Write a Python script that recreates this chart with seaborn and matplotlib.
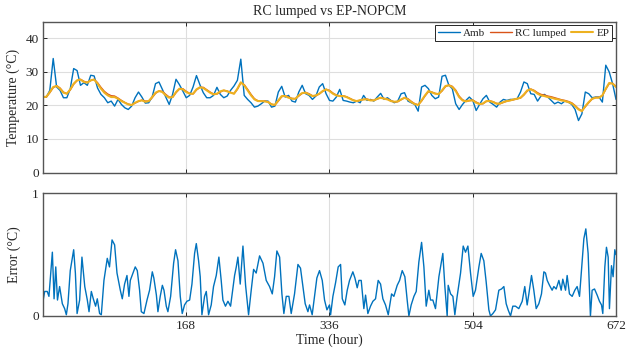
import numpy as np
import pandas as pd
import matplotlib
matplotlib.use("Agg")
import matplotlib.pyplot as plt
import seaborn as sns

# hourly axis, values read every 4 hours
hours = np.arange(0, 673, 4)

amb_temp = [
    22.5, 22.5, 24.5, 34.0, 25.5, 24.5, 22.3, 22.3, 25.0, 31.0, 30.4, 26.0, 26.8, 26.0, 29.0, 28.8,
    25.2, 23.3, 22.3, 20.8, 21.3, 19.8, 21.8, 20.3, 19.3, 18.8, 19.8, 22.3, 24.0, 22.5, 20.7, 20.8,
    22.5, 26.5, 27.0, 24.8, 22.5, 20.3, 23.3, 27.8, 26.2, 24.3, 22.3, 23.0, 25.5, 28.9, 26.2, 23.8,
    22.3, 22.3, 23.0, 25.4, 23.3, 22.3, 22.8, 24.5, 25.8, 27.5, 33.8, 23.0, 21.8, 20.8, 19.5, 19.8,
    20.5, 21.3, 21.3, 19.5, 19.8, 24.0, 25.7, 22.5, 23.0, 21.3, 21.0, 24.0, 26.0, 23.5, 23.0, 21.8,
    22.8, 25.5, 26.5, 23.5, 21.5, 21.3, 22.5, 24.8, 21.5, 21.3, 21.0, 20.8, 21.3, 20.8, 23.0, 21.5,
    21.8, 21.3, 22.5, 23.6, 21.8, 22.3, 21.5, 20.8, 21.3, 23.5, 23.8, 21.3, 20.8, 20.3, 18.3, 25.5,
    26.0, 25.0, 23.0, 22.0, 22.5, 28.7, 29.0, 26.0, 25.0, 20.5, 18.8, 20.3, 21.5, 22.5, 21.5, 18.5,
    20.3, 22.0, 23.0, 21.0, 20.3, 19.5, 21.0, 21.8, 21.5, 21.8, 21.8, 22.0, 24.0, 27.0, 26.5, 23.5,
    23.3, 21.3, 22.8, 23.3, 22.5, 21.5, 20.5, 21.0, 20.5, 21.3, 21.0, 20.3, 18.8, 15.5, 17.5, 24.0,
    23.5, 22.3, 22.5, 22.5, 21.0, 32.0, 30.0, 26.5, 21.8,
]

ep_temp = [
    22.5, 22.6, 24.0, 25.5, 25.8, 25.0, 23.8, 23.5, 24.8, 26.5, 27.5, 27.7, 27.0, 26.8, 27.5, 27.7,
    26.5, 25.0, 23.8, 23.0, 22.5, 22.5, 22.0, 21.3, 20.8, 20.3, 20.1, 20.8, 21.3, 21.5, 21.1, 21.3,
    22.5, 23.8, 24.3, 24.0, 23.0, 22.3, 22.5, 24.0, 25.0, 24.8, 24.0, 23.5, 23.5, 24.8, 25.4, 25.2,
    24.5, 23.8, 23.3, 23.5, 24.2, 24.5, 24.2, 23.8, 23.5, 25.0, 26.9, 26.0, 24.5, 23.0, 21.8, 21.3,
    21.3, 21.2, 21.0, 20.3, 20.2, 21.5, 22.8, 22.8, 22.3, 22.0, 22.0, 23.0, 23.7, 23.8, 23.3, 22.8,
    23.0, 23.5, 24.3, 24.8, 24.3, 23.5, 23.0, 22.8, 22.8, 22.5, 22.0, 21.5, 21.3, 21.6, 21.8, 21.8,
    21.5, 21.5, 22.0, 22.3, 22.0, 21.8, 21.3, 21.1, 21.2, 21.8, 22.3, 21.8, 21.0, 20.4, 20.1, 21.5,
    23.0, 24.3, 23.9, 23.5, 23.4, 24.5, 25.8, 26.0, 25.5, 24.3, 22.5, 21.5, 21.2, 21.5, 21.5, 20.8,
    20.4, 20.6, 21.3, 21.3, 21.0, 20.5, 20.6, 21.0, 21.3, 21.5, 21.8, 22.0, 22.3, 23.3, 24.5, 24.8,
    24.3, 23.5, 23.0, 22.8, 22.5, 22.3, 22.0, 21.8, 21.5, 21.3, 21.0, 20.6, 19.8, 18.8, 18.3, 19.8,
    21.0, 22.0, 22.3, 22.3, 23.0, 25.0, 26.7, 26.5, 25.5,
]

rc_temp = [
    22.4, 22.5, 23.8, 25.3, 25.9, 25.2, 24.0, 23.5, 24.6, 26.3, 27.4, 27.8, 27.2, 26.9, 27.4, 27.8,
    26.8, 25.4, 24.2, 23.4, 22.9, 22.8, 22.2, 21.5, 20.9, 20.4, 20.2, 20.7, 21.2, 21.6, 21.3, 21.3,
    22.3, 23.6, 24.3, 24.2, 23.3, 22.5, 22.4, 23.8, 24.9, 25.0, 24.2, 23.6, 23.4, 24.6, 25.4, 25.4,
    24.7, 24.0, 23.4, 23.4, 24.0, 24.5, 24.3, 23.9, 23.5, 24.8, 26.7, 26.2, 24.8, 23.3, 22.0, 21.4,
    21.3, 21.3, 21.1, 20.4, 20.1, 21.3, 22.6, 22.9, 22.5, 22.1, 22.0, 22.8, 23.6, 23.9, 23.5, 22.9,
    22.9, 23.4, 24.2, 24.8, 24.5, 23.7, 23.1, 22.8, 22.9, 22.6, 22.1, 21.6, 21.3, 21.5, 21.8, 21.9,
    21.6, 21.5, 21.9, 22.3, 22.1, 21.9, 21.4, 21.1, 21.1, 21.7, 22.3, 22.0, 21.2, 20.5, 20.2, 21.3,
    22.8, 24.1, 24.0, 23.6, 23.4, 24.3, 25.6, 26.1, 25.7, 24.6, 22.8, 21.7, 21.2, 21.4, 21.6, 21.0,
    20.5, 20.5, 21.2, 21.4, 21.1, 20.6, 20.5, 20.9, 21.3, 21.5, 21.7, 22.0, 22.2, 23.1, 24.3, 24.9,
    24.5, 23.8, 23.3, 23.1, 22.8, 22.6, 22.3, 22.0, 21.7, 21.5, 21.2, 20.8, 20.0, 19.0, 18.4, 19.6,
    20.8, 21.9, 22.4, 22.4, 22.9, 24.8, 26.5, 26.6, 25.7,
]

# error between RC lumped and EP, read at the turning points of the curve
err_hours = [
    0, 2, 5, 7, 11, 13, 15, 17, 19.5, 22.7, 25.4, 27.4, 29.3, 32, 36, 38, 40, 43, 45.7, 49, 52, 54,
    56.7, 59, 61.7, 63.7, 66.4, 68.4, 71.5, 75.4, 78, 81, 84, 86.8, 90.7, 93, 95.7, 98.5, 100.8,
    102.4, 105.5, 108.2, 110.6, 113.3, 115.3, 118.4, 122, 125, 128.2, 130, 133, 134.8, 137.5, 140,
    141.9, 144.6, 146.5, 149.7, 153.2, 155.5, 158.3, 161, 163.3, 166, 168.8, 172, 174.7, 177.8,
    179.8, 182.5, 184.4, 186.4, 189.5, 191.5, 194.2, 197.3, 200, 203.2, 206.3, 209, 211, 214,
    216.9, 220, 224.7, 226.7, 228.6, 231.3, 234.5, 237.6, 241.1, 244.2, 247, 250, 254, 258, 261.8,
    265.7, 268.9, 271.6, 274.3, 277.5, 280.2, 282.5, 285.3, 288.4, 291.1, 295, 299, 302, 304.8,
    307.5, 310.7, 312.6, 315.7, 318.5, 321.2, 324.3, 327.5, 330.2, 333, 336, 337.3, 340, 343.1,
    346.2, 349, 351, 354, 356.8, 359.5, 363.4, 365.8, 368.5, 370.5, 373.2, 376.3, 378.3, 381,
    384.1, 386.9, 390, 393.1, 395.9, 398.6, 401.7, 404.9, 408.8, 411.5, 415.4, 418.2, 421.3,
    424.4, 427.1, 429.1, 431.8, 435, 437.7, 440.8, 444, 446.7, 449.4, 452.5, 454.5, 457.2, 460.3,
    464.3, 468.9, 471.3, 474, 475.2, 478, 480.7, 483, 485.7, 489.7, 492.8, 495.5, 498.3, 501.4,
    504.5, 507.2, 511.2, 513.9, 517, 519.7, 522.9, 524.8, 527.6, 530.7, 534.6, 537.7, 540.5,
    543.2, 545.5, 548.3, 551, 554.1, 558, 562, 565, 567.8, 569.8, 572.9, 575.6, 578.4, 581.5,
    584.6, 587.4, 589.3, 591.3, 594, 597.1, 599.1, 601.8, 605, 607.7, 609.6, 612.8, 614.7, 617.4,
    620.6, 623.7, 626.4, 629.2, 632.3, 634.3, 636.6, 639.3, 642, 644, 646.8, 649.9, 652.6, 655,
    656.5, 658.9, 660.8, 662.8, 664.3, 666.7, 668.6, 670.6, 672,
]
err_vals = [
    0.12, 0.20, 0.20, 0.16, 0.52, 0.14, 0.40, 0.13, 0.24, 0.10, 0.06, 0.01, 0.10, 0.37, 0.54, 0.35,
    0.02, 0.13, 0.48, 0.24, 0.13, 0.035, 0.20, 0.14, 0.08, 0.14, 0.02, 0.01, 0.29, 0.47, 0.40, 0.62,
    0.58, 0.35, 0.21, 0.14, 0.26, 0.33, 0.16, 0.29, 0.35, 0.40, 0.37, 0.21, 0.035, 0.02, 0.13, 0.21,
    0.36, 0.31, 0.17, 0.035, 0.16, 0.25, 0.21, 0.08, 0.035, 0.16, 0.43, 0.54, 0.45, 0.16, 0.02, 0.09,
    0.12, 0.13, 0.26, 0.51, 0.59, 0.45, 0.32, 0.01, 0.16, 0.20, 0.01, 0.09, 0.24, 0.33, 0.48, 0.29,
    0.13, 0.08, 0.12, 0.08, 0.33, 0.40, 0.48, 0.26, 0.57, 0.25, 0.01, 0.21, 0.38, 0.35, 0.49, 0.43,
    0.29, 0.24, 0.18, 0.32, 0.53, 0.48, 0.18, 0.02, 0.16, 0.16, 0.02, 0.18, 0.42, 0.39, 0.24, 0.10,
    0.035, 0.09, 0.01, 0.16, 0.31, 0.37, 0.29, 0.13, 0.05, 0.09, 0.01, 0.16, 0.27, 0.40, 0.42, 0.14,
    0.09, 0.21, 0.29, 0.36, 0.31, 0.23, 0.29, 0.29, 0.06, 0.17, 0.02, 0.08, 0.12, 0.14, 0.29, 0.26,
    0.14, 0.09, 0.01, 0.18, 0.16, 0.25, 0.29, 0.37, 0.32, 0.13, 0.0, 0.09, 0.16, 0.20, 0.44, 0.60,
    0.40, 0.08, 0.21, 0.13, 0.13, 0.06, 0.32, 0.51, 0.24, 0.0, 0.25, 0.18, 0.16, 0.01, 0.16, 0.35,
    0.57, 0.52, 0.57, 0.35, 0.16, 0.21, 0.40, 0.51, 0.45, 0.28, 0.05, 0.0, 0.02, 0.05, 0.21, 0.22,
    0.24, 0.10, 0.05, 0.0, 0.08, 0.08, 0.06, 0.12, 0.24, 0.09, 0.18, 0.33, 0.21, 0.06, 0.10, 0.18,
    0.36, 0.35, 0.29, 0.25, 0.21, 0.24, 0.22, 0.29, 0.21, 0.30, 0.21, 0.33, 0.18, 0.16, 0.21, 0.24,
    0.16, 0.45, 0.63, 0.71, 0.51, 0.0, 0.21, 0.22, 0.17, 0.12, 0.09, 0.02, 0.40, 0.56, 0.48, 0.06,
    0.41, 0.32, 0.54, 0.50,
]

x_ticks = [168, 336, 504, 672]

top = pd.DataFrame({"hour": hours, "Amb": amb_temp, "RC lumped": rc_temp, "EP": ep_temp})
err = pd.DataFrame({"hour": err_hours, "Error": err_vals})

sns.set_style("ticks")
plt.rcParams["font.family"] = ["Liberation Serif", "DejaVu Serif"]

fig = plt.figure(figsize=(6.32, 3.56), dpi=100)
ax1 = fig.add_axes([0.068, 0.5154, 0.9067, 0.4239])
ax2 = fig.add_axes([0.068, 0.1124, 0.9067, 0.3446])

sns.lineplot(data=top, x="hour", y="Amb", ax=ax1, color="#0072BD", linewidth=1.0, label="Amb")
sns.lineplot(data=top, x="hour", y="RC lumped", ax=ax1, color="#D95319", linewidth=1.0, label="RC lumped")
sns.lineplot(data=top, x="hour", y="EP", ax=ax1, color="#EDB120", linewidth=1.5, label="EP")
sns.lineplot(data=err, x="hour", y="Error", ax=ax2, color="#0072BD", linewidth=1.0)

for ax in (ax1, ax2):
    ax.set_xlim(0, 672)
    ax.set_xticks(x_ticks)
    ax.grid(True, color="#dedede", linewidth=0.8)
    ax.set_axisbelow(True)
    ax.tick_params(direction="in", length=3, width=0.7, top=True, right=True,
                   labelsize=9.5, colors="#262626", pad=3)
    for s in ax.spines.values():
        s.set_color("#555555")
        s.set_linewidth(1.0)

ax1.set_ylim(0, 45)
ax1.set_yticks([0, 10, 20, 30, 40])
ax1.tick_params(labelbottom=False)
ax1.set_xlabel("")
ax1.set_ylabel("Temperature (°C)", fontsize=10, color="#262626", labelpad=4)
ax1.set_title("RC lumped vs EP-NOPCM", fontsize=10, color="#262626", pad=5)

leg = ax1.legend(loc="upper right", ncol=3, fontsize=8, frameon=True, fancybox=False,
                 edgecolor="#262626", framealpha=1, handlelength=2.0, handletextpad=0.3,
                 columnspacing=0.4, borderpad=0.25, borderaxespad=0.35)
leg.get_frame().set_linewidth(0.7)

ax2.set_ylim(0, 1)
ax2.set_yticks([0, 1])
ax2.set_ylabel("Error (°C)", fontsize=10, color="#262626", labelpad=8)
ax2.set_xlabel("Time (hour)", fontsize=10, color="#262626", labelpad=1)

fig.savefig("out.png", dpi=100)
